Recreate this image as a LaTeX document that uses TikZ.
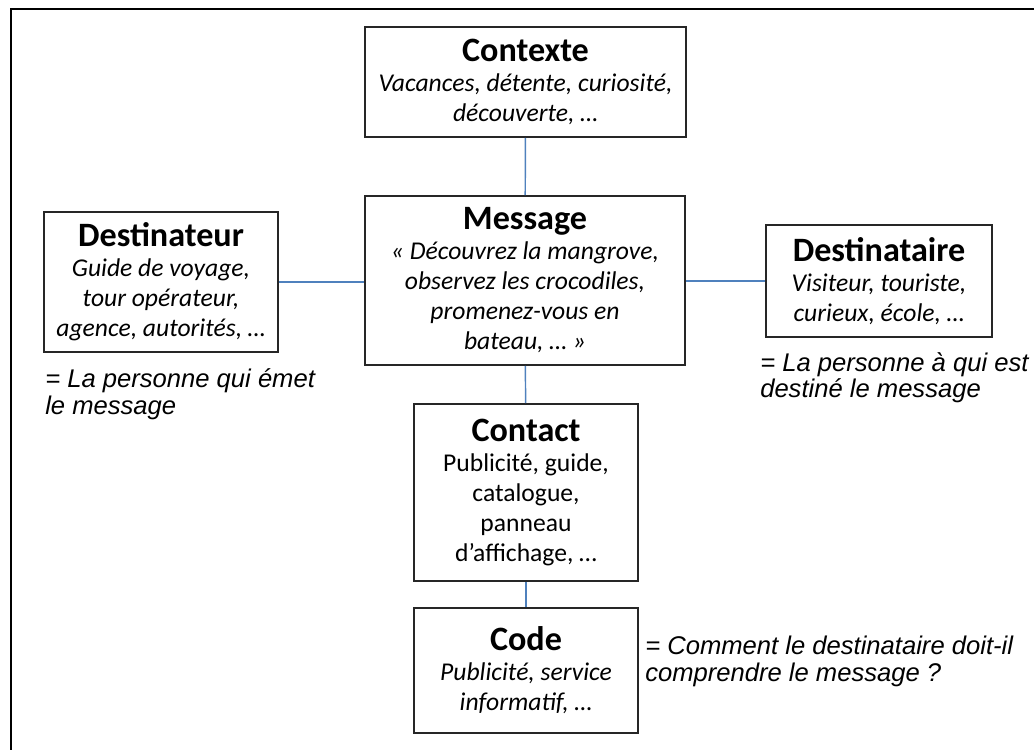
\documentclass[tikz,border=0pt]{standalone}
\usepackage{fontspec}
\setmainfont{Carlito}
\newfontfamily\arialfont{Liberation Sans}
\definecolor{lienbleu}{RGB}{79,129,189}
\newcommand{\titre}[1]{{\fontsize{25.6}{22.5}\selectfont\bfseries\upshape #1}}

\begin{document}
\begin{tikzpicture}[x=0.75pt, y=-0.75pt,
    bloc/.style={draw=black!85, line width=1.4pt, align=center, inner sep=0pt,
      font=\fontsize{19.2}{22.5}\selectfont\itshape},
    lien/.style={draw=lienbleu, line width=1.1pt},
    remarque/.style={align=left, inner sep=0pt, anchor=north west,
      font=\arialfont\fontsize{19.2}{20}\selectfont\itshape}]
            \useasboundingbox (0,0) rectangle (1034,749);
            \draw[line width=1.5pt] (11,9) rectangle (1060,780);

            \node[bloc, minimum width=240.75pt, minimum height=82.5pt] (contexte) at (525.5,82)
                {\titre{Contexte}\\Vacances, détente, curiosité,\\découverte, …};
            \node[bloc, minimum width=240pt, minimum height=126.75pt] (message) at (525,280.5)
                {\titre{Message}\\« Découvrez la mangrove,\\observez les crocodiles,\\promenez-vous en\\bateau, … »};
            \node[bloc, minimum width=175.5pt, minimum height=105pt] (destinateur) at (161,282)
                {\titre{Destinateur}\\Guide de voyage,\\tour opérateur,\\agence, autorités, …};
            \node[bloc, minimum width=169.5pt, minimum height=84pt] (destinataire) at (879,281)
                {\titre{Destinataire}\\Visiteur, touriste,\\curieux, école, …};
            \node[bloc, font=\fontsize{19.2}{22.5}\selectfont, minimum width=168pt, minimum height=132.75pt] (contact) at (526,492.5)
                {\titre{Contact}\\Publicité, guide,\\catalogue,\\panneau\\d’affichage, …};
            \node[bloc, minimum width=168pt, minimum height=93.75pt] (code) at (526,670.5)
                {\titre{Code}\\Publicité, service\\informatif, …};

            \node[remarque] (rem-destinateur) at (45,368.7) {= La personne qui émet\\le message};
            \node[remarque] (rem-destinataire) at (760,352) {= La personne à qui est\\destiné le message};
            \node[remarque] (rem-code) at (645,636) {= Comment le destinataire doit-il\\comprendre le message ?};

            \draw[lien] (contexte) -- (message);
            \draw[lien] (message) -- (contact);
            \draw[lien] (contact) -- (code);
            \draw[lien] (destinateur.east) -- (destinateur.east -| message.west);
            \draw[lien] (message.east |- destinataire.west) -- (destinataire.west);
\end{tikzpicture}
\end{document}
